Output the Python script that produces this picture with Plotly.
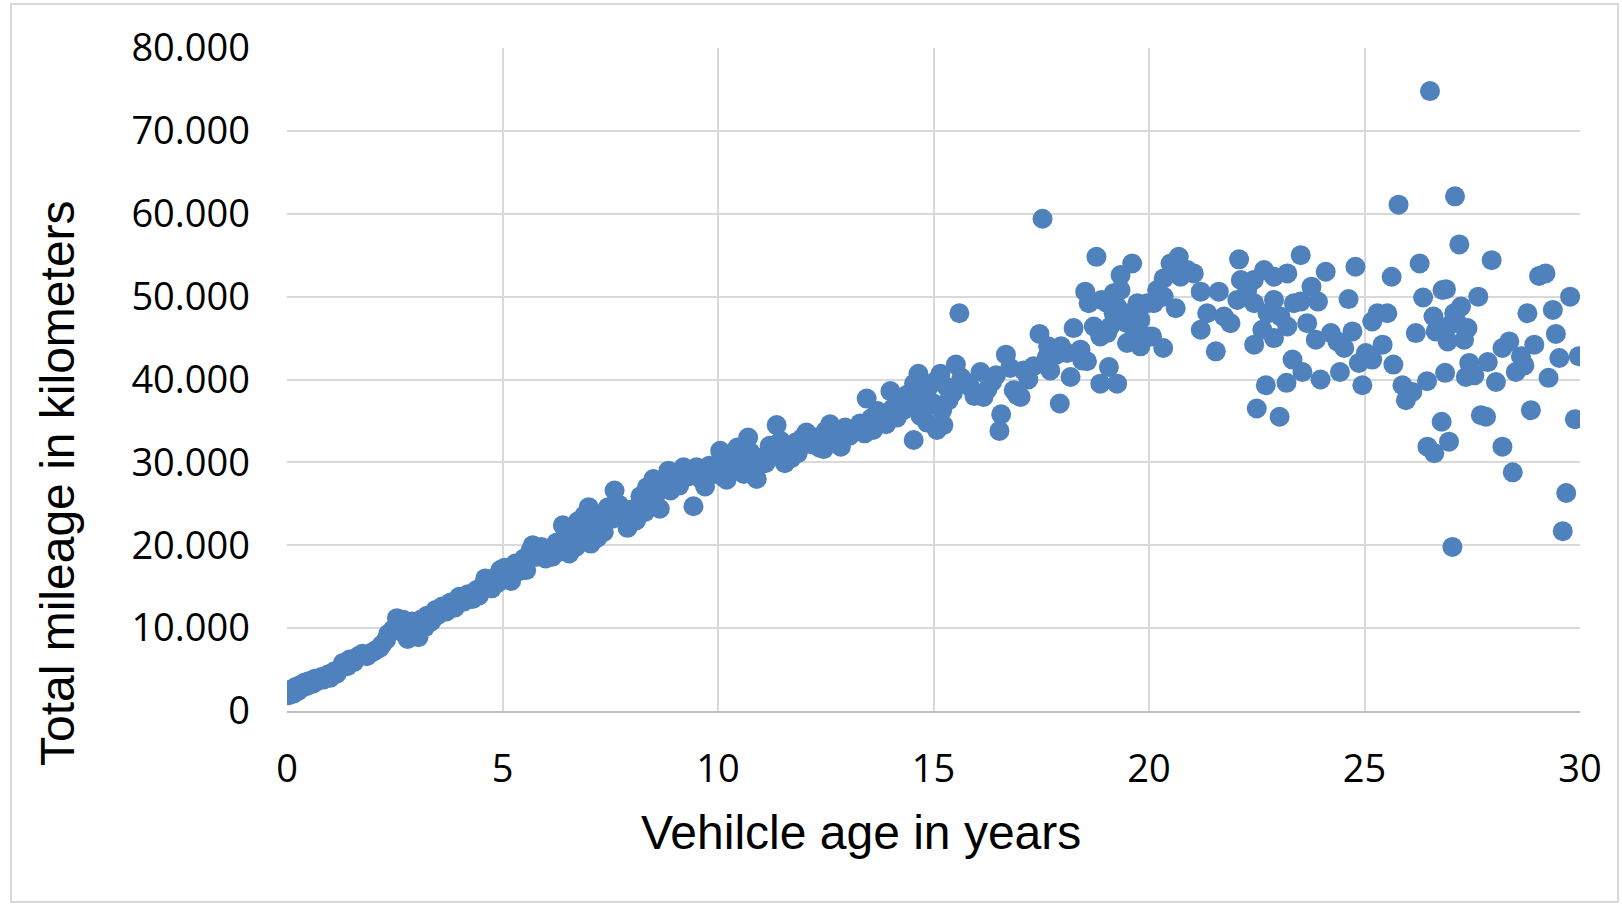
import plotly.graph_objects as go

# (vehicle age in years, total mileage in km)
points_0_5 = [
    (0.05, 1900), (0.1, 2600), (0.15, 2100), (0.2, 2900), (0.25, 2400), (0.3, 3100),
    (0.35, 2800), (0.4, 3400), (0.45, 3000), (0.5, 3600), (0.6, 3300), (0.65, 3900),
    (0.7, 3600), (0.8, 4100), (0.85, 3800), (0.95, 4400), (1.0, 4000), (1.1, 4800),
    (1.15, 4500), (1.25, 5200), (1.3, 5800), (1.4, 5400), (1.45, 6200), (1.55, 5900),
    (1.65, 6600), (1.75, 6900), (1.85, 6600), (1.95, 7000), (2.05, 7300), (2.15, 7600),
    (2.2, 8000), (2.3, 8600), (2.35, 9300), (2.45, 9800), (2.55, 11200), (2.6, 10400),
    (2.65, 9600), (2.7, 11000), (2.75, 10200), (2.8, 8700), (2.85, 9600), (2.9, 10800),
    (2.95, 9200), (3.0, 10300), (3.05, 8900), (3.1, 11000), (3.2, 10100), (3.25, 11500),
    (3.35, 10800), (3.45, 12200), (3.5, 11600), (3.6, 12600), (3.7, 12000), (3.8, 13100),
    (3.9, 12500), (4.0, 13800), (4.1, 13200), (4.2, 14100), (4.3, 13500), (4.4, 14600),
    (4.45, 13900), (4.55, 15200), (4.6, 16000), (4.7, 15800), (4.75, 14800), (4.85, 16200),
    (4.9, 15500), (4.95, 17000),
]
points_5_10 = [
    (5.0, 16000), (5.05, 17300), (5.15, 16600), (5.2, 15700), (5.3, 17800), (5.4, 16900),
    (5.5, 18400), (5.55, 17000), (5.65, 19400), (5.7, 20000), (5.8, 18600), (5.9, 19800),
    (6.0, 18400), (6.05, 19100), (6.15, 18600), (6.25, 20300), (6.3, 19200), (6.4, 22400),
    (6.45, 20800), (6.55, 19000), (6.6, 21600), (6.7, 19800), (6.75, 22900), (6.8, 20400),
    (6.9, 23600), (6.95, 21500), (7.0, 24600), (7.05, 20200), (7.1, 22500), (7.2, 20900),
    (7.3, 23800), (7.35, 21600), (7.45, 24600), (7.55, 23200), (7.6, 26600), (7.7, 24900),
    (7.8, 23500), (7.9, 22100), (8.0, 24300), (8.1, 23000), (8.2, 25900), (8.3, 24000),
    (8.35, 27000), (8.45, 25300), (8.5, 28000), (8.6, 26400), (8.65, 24400), (8.75, 27300),
    (8.85, 29000), (8.9, 26600), (9.0, 28200), (9.1, 27200), (9.2, 29400), (9.3, 28300),
    (9.43, 24700), (9.5, 29400), (9.6, 28000), (9.7, 27100), (9.8, 29600), (9.9, 28600),
]
points_10_15 = [
    (10.0, 29200), (10.05, 31400), (10.1, 28300), (10.2, 27900), (10.25, 30400), (10.35, 29500),
    (10.45, 31800), (10.5, 30200), (10.6, 28600), (10.7, 33000), (10.75, 31200), (10.85, 29700),
    (10.9, 28000), (11.0, 30600), (11.1, 29900), (11.2, 32000), (11.3, 31000), (11.36, 34500),
    (11.45, 32600), (11.55, 29900), (11.6, 31600), (11.7, 30500), (11.8, 32400), (11.85, 31100),
    (11.95, 32900), (12.05, 33600), (12.15, 32200), (12.25, 33000), (12.35, 31800), (12.45, 31600),
    (12.5, 33800), (12.6, 34600), (12.7, 32600), (12.8, 33400), (12.85, 31900), (12.95, 34200),
    (13.05, 33200), (13.15, 34000), (13.3, 34700), (13.4, 33500), (13.45, 37700), (13.55, 35300),
    (13.6, 33900), (13.7, 36200), (13.8, 35000), (13.9, 34600), (14.0, 38600), (14.05, 36500),
    (14.15, 35400), (14.25, 37400), (14.3, 36300), (14.4, 38200), (14.54, 32700), (14.55, 39500),
    (14.6, 36800), (14.65, 40700), (14.7, 35600), (14.8, 38000), (14.85, 34800), (14.9, 39200),
    (14.95, 37000),
]
points_15_20 = [
    (15.0, 37100), (15.05, 39800), (15.08, 33900), (15.16, 40700), (15.2, 36300), (15.23, 34500),
    (15.31, 39100), (15.35, 37500), (15.45, 38400), (15.52, 41800), (15.6, 48000), (15.65, 40200),
    (15.78, 39500), (15.85, 39100), (15.95, 38000), (16.09, 40900), (16.16, 37900), (16.25, 38800),
    (16.36, 39700), (16.45, 40500), (16.53, 33800), (16.57, 35800), (16.68, 43000), (16.78, 41400),
    (16.86, 38700), (16.94, 38100), (17.02, 37900), (17.09, 41100), (17.2, 40000), (17.32, 41600),
    (17.46, 45500), (17.53, 59400), (17.63, 42700), (17.66, 44000), (17.71, 41100), (17.85, 43000),
    (17.93, 37100), (17.96, 44000), (18.1, 43200), (18.18, 40300), (18.25, 46200), (18.41, 43600),
    (18.45, 42300), (18.52, 50600), (18.56, 42200), (18.6, 49200), (18.72, 46400), (18.78, 54800),
    (18.87, 45200), (18.87, 39500), (18.9, 49600), (19.03, 49200), (19.03, 45600), (19.07, 41500),
    (19.1, 46400), (19.18, 48000), (19.18, 50400), (19.26, 39500), (19.26, 48800), (19.34, 52600),
    (19.34, 50800), (19.49, 46800), (19.49, 44400), (19.57, 48000), (19.61, 54000), (19.65, 45200),
    (19.73, 49200), (19.8, 47200), (19.8, 44000), (19.96, 45200), (19.96, 49200),
]
points_20_25 = [
    (20.07, 45200), (20.11, 49200), (20.19, 50800), (20.33, 43800), (20.34, 50000), (20.34, 52200),
    (20.5, 54000), (20.62, 48600), (20.69, 54800), (20.73, 52400), (20.89, 53200), (21.04, 52800),
    (21.2, 50600), (21.2, 46000), (21.35, 48000), (21.55, 43400), (21.62, 50600), (21.74, 47600),
    (21.89, 46800), (22.05, 49600), (22.09, 54500), (22.13, 52000), (22.28, 50800), (22.43, 52000),
    (22.44, 49200), (22.44, 44200), (22.5, 36500), (22.63, 46000), (22.67, 53200), (22.71, 39300),
    (22.75, 48000), (22.9, 52400), (22.9, 49600), (22.9, 45000), (23.03, 35500), (23.05, 47600),
    (23.19, 39600), (23.21, 52800), (23.21, 46400), (23.33, 42400), (23.36, 49200), (23.52, 55000),
    (23.52, 49400), (23.56, 40900), (23.67, 46800), (23.77, 51200), (23.87, 44800), (23.92, 49400),
    (23.98, 40000), (24.1, 53000), (24.22, 45600), (24.37, 44600), (24.43, 40900), (24.53, 43800),
    (24.63, 49700), (24.72, 45800), (24.79, 53600), (24.87, 42000), (24.95, 39300),
]
points_25_30 = [
    (25.03, 43200), (25.18, 42400), (25.18, 47000), (25.3, 48000), (25.42, 44200), (25.53, 48000),
    (25.63, 52400), (25.67, 41800), (25.79, 61100), (25.88, 39300), (25.96, 37500), (26.11, 38500),
    (26.19, 45600), (26.28, 54000), (26.36, 49900), (26.45, 39800), (26.46, 31900), (26.52, 74800),
    (26.6, 47600), (26.62, 31100), (26.65, 45800), (26.79, 34900), (26.81, 50800), (26.89, 50900),
    (26.87, 40800), (26.93, 46400), (26.93, 44600), (26.96, 32500), (27.04, 19800), (27.08, 48000),
    (27.1, 62100), (27.16, 46800), (27.2, 56300), (27.24, 48800), (27.31, 44800), (27.35, 40300),
    (27.39, 46200), (27.43, 42000), (27.55, 40500), (27.64, 50000), (27.7, 35700), (27.82, 35500),
    (27.86, 42100), (27.95, 54400), (28.05, 39700), (28.2, 43800), (28.2, 31900), (28.36, 44600),
    (28.44, 28800), (28.51, 40900), (28.63, 42800), (28.71, 41700), (28.78, 48000), (28.86, 36300),
    (28.94, 44200), (29.05, 52500), (29.2, 52800), (29.27, 40200), (29.37, 48400), (29.44, 45500),
    (29.52, 42600), (29.6, 21700), (29.68, 26300), (29.77, 50000), (29.88, 35200), (29.97, 42800),
]

x_ticks = [0, 5, 10, 15, 20, 25, 30]
y_ticks = [0, 10000, 20000, 30000, 40000, 50000, 60000, 70000, 80000]
y_tick_labels = ["0", "10.000", "20.000", "30.000", "40.000", "50.000", "60.000", "70.000", "80.000"]

all_points = points_0_5 + points_5_10 + points_10_15 + points_15_20 + points_20_25 + points_25_30
ages = [p[0] for p in all_points]
mileage = [p[1] for p in all_points]

W, H = 1622, 905
L, R, T, B = 287, 42, 48, 194
pw, ph = W - L - R, H - T - B


def px(x):
    return (x - L) / pw


def py(y):
    return (H - B - y) / ph


fig = go.Figure()
fig.add_trace(go.Scatter(
    x=ages, y=mileage, mode="markers",
    marker=dict(size=20, color="rgb(79,129,189)", line=dict(width=0)),
    showlegend=False, hoverinfo="x+y",
))

tick_font = dict(family="Open Sans", size=38, color="#000000")
title_font = dict(family="Arial, Liberation Sans", size=48, color="#000000")

fig.update_layout(
    width=W, height=H,
    margin=dict(l=L, r=R, t=T, b=B, pad=0),
    paper_bgcolor="white", plot_bgcolor="white",
    xaxis=dict(
        range=[0, 30], tickvals=x_ticks, ticktext=[str(v) for v in x_ticks],
        showgrid=True, gridcolor="#d9d9d9", gridwidth=1.5,
        zeroline=False, showline=True, linecolor="#bfbfbf", linewidth=2,
        ticks="", tickfont=tick_font, ticklabelstandoff=23,
    ),
    yaxis=dict(
        range=[0, 80000], tickvals=y_ticks, ticktext=y_tick_labels,
        showgrid=True, gridcolor="#d9d9d9", gridwidth=1.5,
        zeroline=False, showline=False,
        ticks="", tickfont=tick_font, ticklabelstandoff=36,
    ),
    annotations=[
        dict(text="Vehilcle age in years", x=px(861), y=py(832), xref="paper", yref="paper",
             xanchor="center", yanchor="middle", showarrow=False, font=title_font),
        dict(text="Total mileage in kilometers", x=px(57), y=py(483), xref="paper", yref="paper",
             xanchor="center", yanchor="middle", showarrow=False, textangle=-90, font=title_font),
    ],
    shapes=[
        dict(type="rect", xref="paper", yref="paper",
             x0=px(11), x1=px(1618), y0=py(902), y1=py(4),
             line=dict(color="#d9d9d9", width=2), fillcolor="rgba(0,0,0,0)", layer="below"),
    ],
)

fig.write_html(
    "out.html",
    config={"displayModeBar": False},
    post_script="document.body.style.margin='0';document.body.style.overflow='hidden';",
)
